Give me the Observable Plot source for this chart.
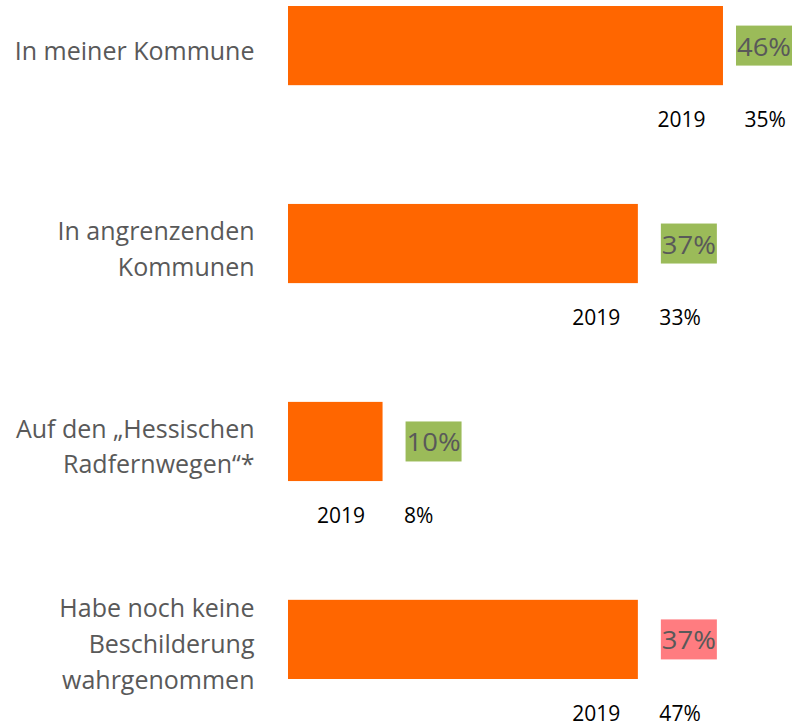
<!DOCTYPE html>
<html>
<head>
<meta charset="utf-8">
<script src="https://cdn.jsdelivr.net/npm/d3@7"></script>
<script src="https://cdn.jsdelivr.net/npm/@observablehq/plot@0.6"></script>
<style>
  html, body { margin: 0; padding: 0; background: #fff; }
  #chart { width: 792px; height: 728px; overflow: hidden; }
</style>
</head>
<body>
<div id="chart"></div>
<script>
const categories = [
  "In meiner Kommune",
  "In angrenzenden\nKommunen",
  "Auf den „Hessischen\nRadfernwegen“*",
  "Habe noch keine\nBeschilderung\nwahrgenommen"
];
const values2021 = [46, 37, 10, 37];
const values2019 = [35, 33, 8, 47];
const yearLabel = "2019";
const trend = ["up", "up", "up", "down"];

const data = categories.map((c, i) => ({
  cat: c, v: values2021[i], old: values2019[i], trend: trend[i]
}));

const W = 792, H = 728;
const font = "'Open Sans', Lato, sans-serif";

function labelBoxes(index, scales, values, dims, context, next) {
  const g = d3.create("svg:g");
  for (const i of index) {
    const d = data[i];
    const cx = scales.x(d.v);
    const cy = scales.y(d.cat) + scales.y.bandwidth() / 2;
    const boxW = 56, boxH = 40;
    let left = cx + 23;
    if (left + boxW > dims.width) left = dims.width - boxW;
    g.append("rect")
      .attr("x", left).attr("y", cy - boxH / 2)
      .attr("width", boxW).attr("height", boxH)
      .attr("fill", d.trend === "up" ? "#9BBB59" : "#FF7C80");
    g.append("text")
      .attr("x", left + boxW / 2).attr("y", cy)
      .attr("text-anchor", "middle").attr("dominant-baseline", "central")
      .attr("fill", "#595959")
      .attr("font-family", font).attr("font-size", 26)
      .attr("textLength", 54).attr("lengthAdjust", "spacingAndGlyphs")
      .text(d.v + "%");
  }
  return g.node();
}

const chart = Plot.plot({
  width: W,
  height: H,
  marginLeft: 288,
  marginRight: 0,
  marginTop: 6,
  marginBottom: 49,
  style: { fontFamily: font, background: "#fff" },
  x: { domain: [0, 53.3], axis: null },
  y: { domain: categories, paddingInner: 0.6, paddingOuter: 0, align: 0, round: false, axis: null },
  marks: [
    Plot.barX(data, { x: "v", y: "cat", fill: "#FF6600" }),
    Plot.text(data, {
      x: 0, y: "cat", text: "cat", textAnchor: "end", dx: -34, dy: 2,
      fontSize: 25, fill: "#595959", lineHeight: 1.44
    }),
    Plot.text(data, {
      x: "v", y: "cat", text: () => yearLabel, textAnchor: "end", dx: -18, dy: 74,
      fontSize: 21, fill: "#000"
    }),
    Plot.text(data, {
      x: "v", y: "cat", text: d => d.old + "%", textAnchor: "start", dx: 21, dy: 74,
      fontSize: 21, fill: "#000"
    }),
    Plot.text(data, { x: "v", y: "cat", text: "cat", render: labelBoxes })
  ]
});
document.getElementById("chart").appendChild(chart);
</script>
</body>
</html>
